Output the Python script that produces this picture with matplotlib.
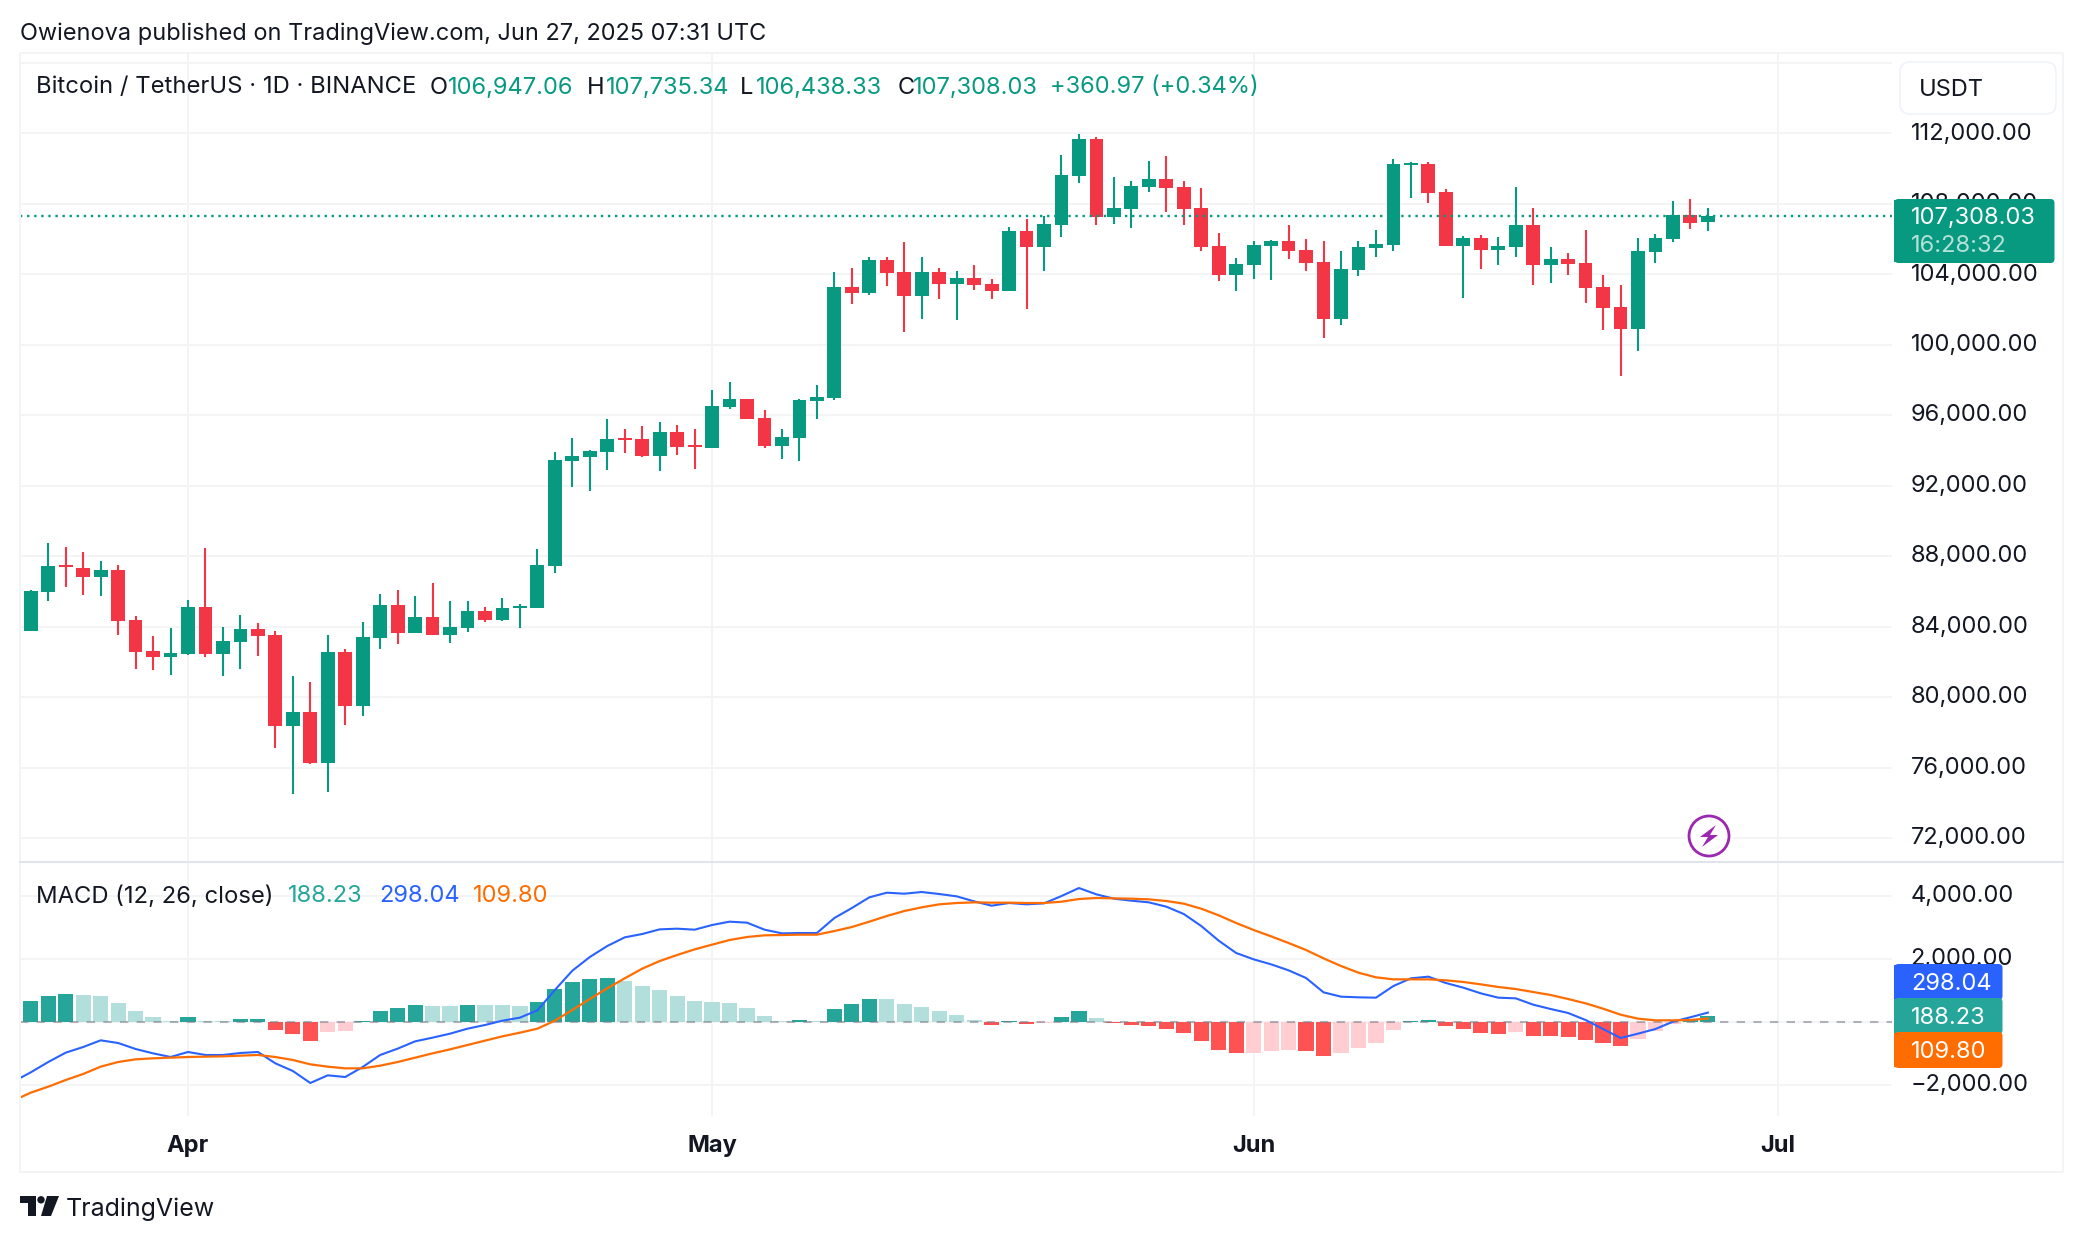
import numpy as np
import pandas as pd
import matplotlib
matplotlib.use("Agg")
import matplotlib.pyplot as plt
import matplotlib.dates as mdates
from matplotlib.patches import FancyBboxPatch, Rectangle, Circle, Polygon
from matplotlib.transforms import ScaledTranslation

plt.rcParams['font.family'] = ['Inter', 'DejaVu Sans']

# ---------- data ----------
start_date = "2025-03-23"
opens = [83754,85968,87500,87330,86819,87216,84378,82619,82278,82449,85116,82449,83130,83868,83527,78362,79156,76262,82562,79497,
         83357,85230,83641,84549,83527,83924,84889,84378,85060,85060,87443,93416,93643,93927,94721,94665,93700,95062,94324,94154,
         96481,96935,95857,94267,94721,96821,96992,103292,102952,104825,104143,102781,104143,103462,103803,103462,103065,106470,105562,106781,
         109562,111663,107235,107689,108938,109392,108938,107746,105589,103943,104511,105589,105873,105362,104681,101446,104227,105476,105646,110187,
         110244,108654,105589,106043,105362,105533,106781,104511,104851,104624,103262,102127,100878,105249,105987,107349,106947]
highs = [86081,88749,88522,88238,87727,87500,84605,83470,83924,85514,88465,83981,84662,84208,83754,81200,80859,83527,82732,84265,
         85854,86081,85741,86478,85457,85457,85116,85627,85287,88408,93927,94721,94040,95800,95232,95402,95630,95459,95232,97446,
         97900,96935,96311,95232,96935,97730,104143,104370,104995,104995,105846,104995,104370,104200,104541,103746,106697,107122,107292,110754,
         111946,111776,109506,109279,110414,110698,109279,108881,106327,104908,105873,105930,106781,105987,105873,105305,105873,106497,110527,110357,
         110357,108825,106157,106214,106100,108938,107746,105533,105192,106497,103943,103376,106043,106270,108143,108257,107735]
lows = [83754,85457,86251,85797,85741,83527,81597,81540,81257,82392,82278,81200,81597,82335,77113,74502,76205,74616,78419,78930,
        82732,83016,83641,83527,83073,83697,84265,84322,83924,85060,87046,91940,91713,92905,93870,93643,92848,93756,92962,94154,
        96367,95800,94154,93529,93416,95800,96878,102327,102838,103349,100738,101476,102611,101419,103122,102611,103035,102043,104170,106100,
        109165,106781,106838,106611,108654,107519,106781,105305,103603,103035,103716,103659,104851,104170,100367,101105,103886,104965,105305,108314,
        108030,105589,102638,104284,104511,104965,103376,103489,103943,102354,100821,98210,99630,104624,105816,106554,106438]
closes = [86024,87443,87387,86819,87216,84322,82562,82278,82505,85116,82449,83186,83868,83470,78362,79156,76262,82562,79497,83413,
          85230,83641,84549,83527,83981,84889,84378,85060,85173,87500,93473,93700,93983,94665,94608,93700,95062,94210,94210,96538,
          96935,95800,94267,94778,96878,97049,103292,102952,104825,104087,102781,104143,103462,103803,103405,103065,106470,105562,106868,109619,
          111663,107235,107746,108995,109392,108881,107689,105533,103943,104568,105646,105873,105305,104624,101446,104284,105533,105703,110244,110300,
          108598,105589,106043,105362,105589,106781,104511,104851,104568,103205,102070,100878,105305,106043,107349,106895,107308]

histogram = [667,825,889,857,825,603,349,159,32,159,30,20,95,100,-254,-381,-603,-317,-286,30,
             349,444,540,508,500,540,535,530,508,635,1047,1270,1365,1397,1301,1143,1016,825,667,635,
             603,444,190,32,63,30,413,571,730,725,571,476,349,222,63,-95,30,-63,-30,159,
             349,127,-30,-95,-127,-222,-349,-603,-889,-984,-980,-920,-889,-920,-1079,-984,-825,-667,-254,30,
             63,-127,-222,-349,-381,-317,-444,-445,-476,-571,-667,-762,-540,-286,-63,53,188.23]

macd_line = [-1894,-1598,-1270,-973,-794,-582,-667,-857,-995,-1111,-952,-1047,-1047,-984,-952,-1312,-1555,-1936,-1693,-1746,
             -1428,-1047,-846,-614,-497,-370,-212,-95,42,138,370,1016,1629,2063,2412,2687,2793,2941,2962,2931,
             3079,3185,3153,2931,2814,2825,2825,3301,3618,3957,4105,4073,4126,4063,3989,3830,3692,3777,3735,3766,
             3999,4253,4052,3915,3851,3798,3661,3428,3047,2581,2190,1989,1830,1640,1397,942,804,783,772,1143,
             1386,1439,1238,1090,910,772,751,550,413,286,63,-222,-508,-370,-222,10,150,298.04]
signal_line = [-2497,-2243,-2053,-1841,-1650,-1418,-1270,-1185,-1153,-1132,-1111,-1100,-1090,-1069,-1047,-1111,-1206,-1344,-1418,-1471,
               -1471,-1386,-1270,-1132,-995,-868,-730,-592,-455,-339,-212,42,381,730,1069,1386,1693,1936,2127,2306,
               2455,2603,2698,2751,2761,2772,2772,2888,3015,3185,3364,3523,3640,3735,3777,3798,3788,3788,3777,3777,
               3819,3904,3936,3925,3915,3893,3841,3756,3597,3386,3142,2920,2719,2507,2285,2021,1777,1566,1418,1354,
               1354,1354,1323,1270,1196,1111,1047,952,857,730,592,423,233,106,53,53,63,109.80]

price_ticks = [72000,76000,80000,84000,88000,92000,96000,100000,104000,108000,112000]
macd_ticks = [-2000,2000,4000]
month_ticks = ["2025-04-01","2025-05-01","2025-06-01","2025-07-01"]
month_labels = ["Apr","May","Jun","Jul"]
last_price = 107308.03

# ---------- colours ----------
UP, DOWN = "#089981", "#F23645"
H_UP, H_UP_L, H_DN, H_DN_L = "#26A69A", "#B2DFDB", "#FF5252", "#FFCDD2"
BLUE, ORANGE = "#2962FF", "#FF6D00"
INK, GRID = "#131722", "#F3F4F6"

# ---------- figure ----------
W, H = 2084, 1242
fig = plt.figure(figsize=(W/100, H/100), dpi=100, facecolor="white")
def pane(l, t, r, b):
    return fig.add_axes([l/W, 1-b/H, (r-l)/W, (b-t)/H])
ax = pane(20, 54, 1892, 862)
am = pane(20, 862, 1892, 1116)

dates = pd.date_range(start_date, periods=len(closes))
x = mdates.date2num(dates)
x_macd = np.concatenate([[x[0]-1], x])
apr1 = mdates.date2num(pd.Timestamp("2025-04-01"))
xlim = (apr1-9.617, apr1+97.54)

o, h, l, c = map(np.array, (opens, highs, lows, closes))
col = [UP if ci >= oi else DOWN for oi, ci in zip(o, c)]
ax.vlines(x, l, h, colors=col, lw=1.5, zorder=3)
ax.bar(x, np.maximum(np.abs(c-o), 60), bottom=np.minimum(o, c), width=0.79, color=col, zorder=4, linewidth=0)
ax.axhline(last_price, color=UP, lw=1.7, ls=(0, (1, 2)), zorder=5)

ax.set_xlim(*xlim)
ax.set_ylim(70640, 116500)
ax.set_yticks(price_ticks + [116000])
ax.set_yticklabels([f"{v:,.2f}" for v in price_ticks] + [""])

hv = np.array(histogram, float)
hcol = []
for i, v in enumerate(hv):
    rising = i == 0 or v > hv[i-1]
    hcol.append((H_UP if rising else H_UP_L) if v >= 0 else (H_DN_L if rising else H_DN))
am.bar(x, hv, width=0.87, color=hcol, linewidth=0, zorder=3)
am.axhline(0, color="#787B86", lw=1.5, ls=(0, (4, 4)), alpha=0.55, zorder=4)
am.plot(x_macd, macd_line, color=BLUE, lw=1.5, zorder=5)
am.plot(x_macd, signal_line, color=ORANGE, lw=1.6, zorder=6)
am.set_xlim(*xlim)
am.set_ylim(-2984, 5079)
am.set_yticks(macd_ticks + [0])
am.set_yticklabels([f"{v:,.2f}".replace("-", "\u2212") for v in macd_ticks] + [""])

mt = mdates.date2num(pd.to_datetime(month_ticks))
lift = ScaledTranslation(0, 2.2/72*0.72*100/100, fig.dpi_scale_trans)
for a in (ax, am):
    a.set_xticks(mt)
    a.yaxis.tick_right()
    a.grid(True, color=GRID, lw=1.44, zorder=0)
    a.set_axisbelow(True)
    for s in a.spines.values():
        s.set_visible(False)
    a.tick_params(axis="both", length=0)
    a.tick_params(axis="y", pad=13.4, labelsize=17, labelcolor=INK)
    for lab in a.get_yticklabels():
        lab.set_transform(lab.get_transform() + ScaledTranslation(0, 0.022, fig.dpi_scale_trans))
ax.tick_params(axis="x", labelbottom=False)
am.set_xticklabels(month_labels, fontsize=17, fontweight="bold", color=INK)
am.tick_params(axis="x", pad=14)

# ---------- overlay (frame, labels, logo) ----------
ov = fig.add_axes([0, 0, 1, 1], zorder=10, facecolor="none")
ov.set_xlim(0, W); ov.set_ylim(H, 0); ov.axis("off")

for xs, ys in (((20, 20), (53, 1172)), ((2063, 2063), (53, 1172)), ((20, 2063), (53, 53)), ((20, 2063), (1172, 1172))):
    ov.plot(xs, ys, color=GRID, lw=1.44, solid_capstyle="butt")
ov.plot((20, 2063), (862, 862), color="#E0E3EB", lw=1.44)

def label_box(x0, y0, x1, y1, color):
    ov.add_patch(FancyBboxPatch((x0+2, y0+0.5), x1-x0-5, y1-y0-1, boxstyle="round,pad=1.5,rounding_size=4",
                                fc=color, ec="none", zorder=3))
    ov.add_patch(Rectangle((x0, y0), 12, y1-y0, fc=color, ec="none", zorder=3))

def put(x0, y0, s, color=INK, size=17, weight="normal", ha="left"):
    ov.text(x0, y0, s, color=color, fontsize=size, fontweight=weight, ha=ha, va="center_baseline", zorder=5)

# USDT box
ov.add_patch(FancyBboxPatch((1904, 66), 148, 44, boxstyle="round,pad=4,rounding_size=10", fc="white", ec="#F0F3FA", lw=1.2, zorder=3))
put(1919, 87, "USDT", size=17)

# last price
label_box(1894, 200, 2056, 262, UP)
put(1911, 216, f"{last_price:,.2f}", color="white")
put(1911, 244, "16:28:32", color="#B5E2D8")

# MACD last values
label_box(1894, 965, 2004, 999, BLUE)
label_box(1894, 999, 2004, 1033, H_UP)
label_box(1894, 1033, 2004, 1067, ORANGE)
put(1911, 982, f"{macd_line[-1]:.2f}", color="white")
put(1911, 1016, f"{histogram[-1]:.2f}", color="white")
put(1911, 1050, f"{signal_line[-1]:.2f}", color="white")

# header and legends
put(20, 31.3, "Owienova published on TradingView.com, Jun 27, 2025 07:31 UTC", size=16.95)
put(36, 85, "Bitcoin / TetherUS \u00b7 1D \u00b7 BINANCE", size=17.15)
for lx, letter, vx, val in ((430, "O", 447.5, "106,947.06"), (587, "H", 606, "107,735.34"),
                            (740, "L", 756, "106,438.33"), (898, "C", 913, "107,308.03")):
    put(lx, 85, letter)
    put(vx, 85, val, color=UP)
put(1050, 85, "+360.97 (+0.34%)", color=UP)

put(36, 894, "MACD (12, 26, close)", size=17.15)
put(288, 894, f"{histogram[-1]:.2f}", color=H_UP)
put(379, 894, f"{macd_line[-1]:.2f}", color=BLUE)
put(473, 894, f"{signal_line[-1]:.2f}", color=ORANGE)

# lightning badge
PURPLE = "#9C27B0"
ov.add_patch(Circle((1709, 836), 24, fc="white", ec="none", zorder=3))
ov.add_patch(Circle((1709, 836), 20, fc="white", ec=PURPLE, lw=2.0, zorder=4))
ov.add_patch(Polygon([(1716, 825), (1700, 837), (1708, 837), (1702, 847), (1718, 835), (1710, 835)],
                     closed=True, fc=PURPLE, ec="none", zorder=4))

# TradingView logo
LOGO = "#131722"
ov.add_patch(Polygon([(20, 1196), (36, 1196), (36, 1216), (28, 1216), (28, 1203), (20, 1203)], closed=True, fc=LOGO, ec="none"))
ov.add_patch(Circle((41, 1199.8), 3.7, fc=LOGO, ec="none"))
ov.add_patch(Polygon([(47, 1196), (59, 1196), (51, 1216), (41, 1216)], closed=True, fc=LOGO, ec="none"))
put(66, 1207, "TradingView", size=18)

fig.savefig("out.png", dpi=100)
